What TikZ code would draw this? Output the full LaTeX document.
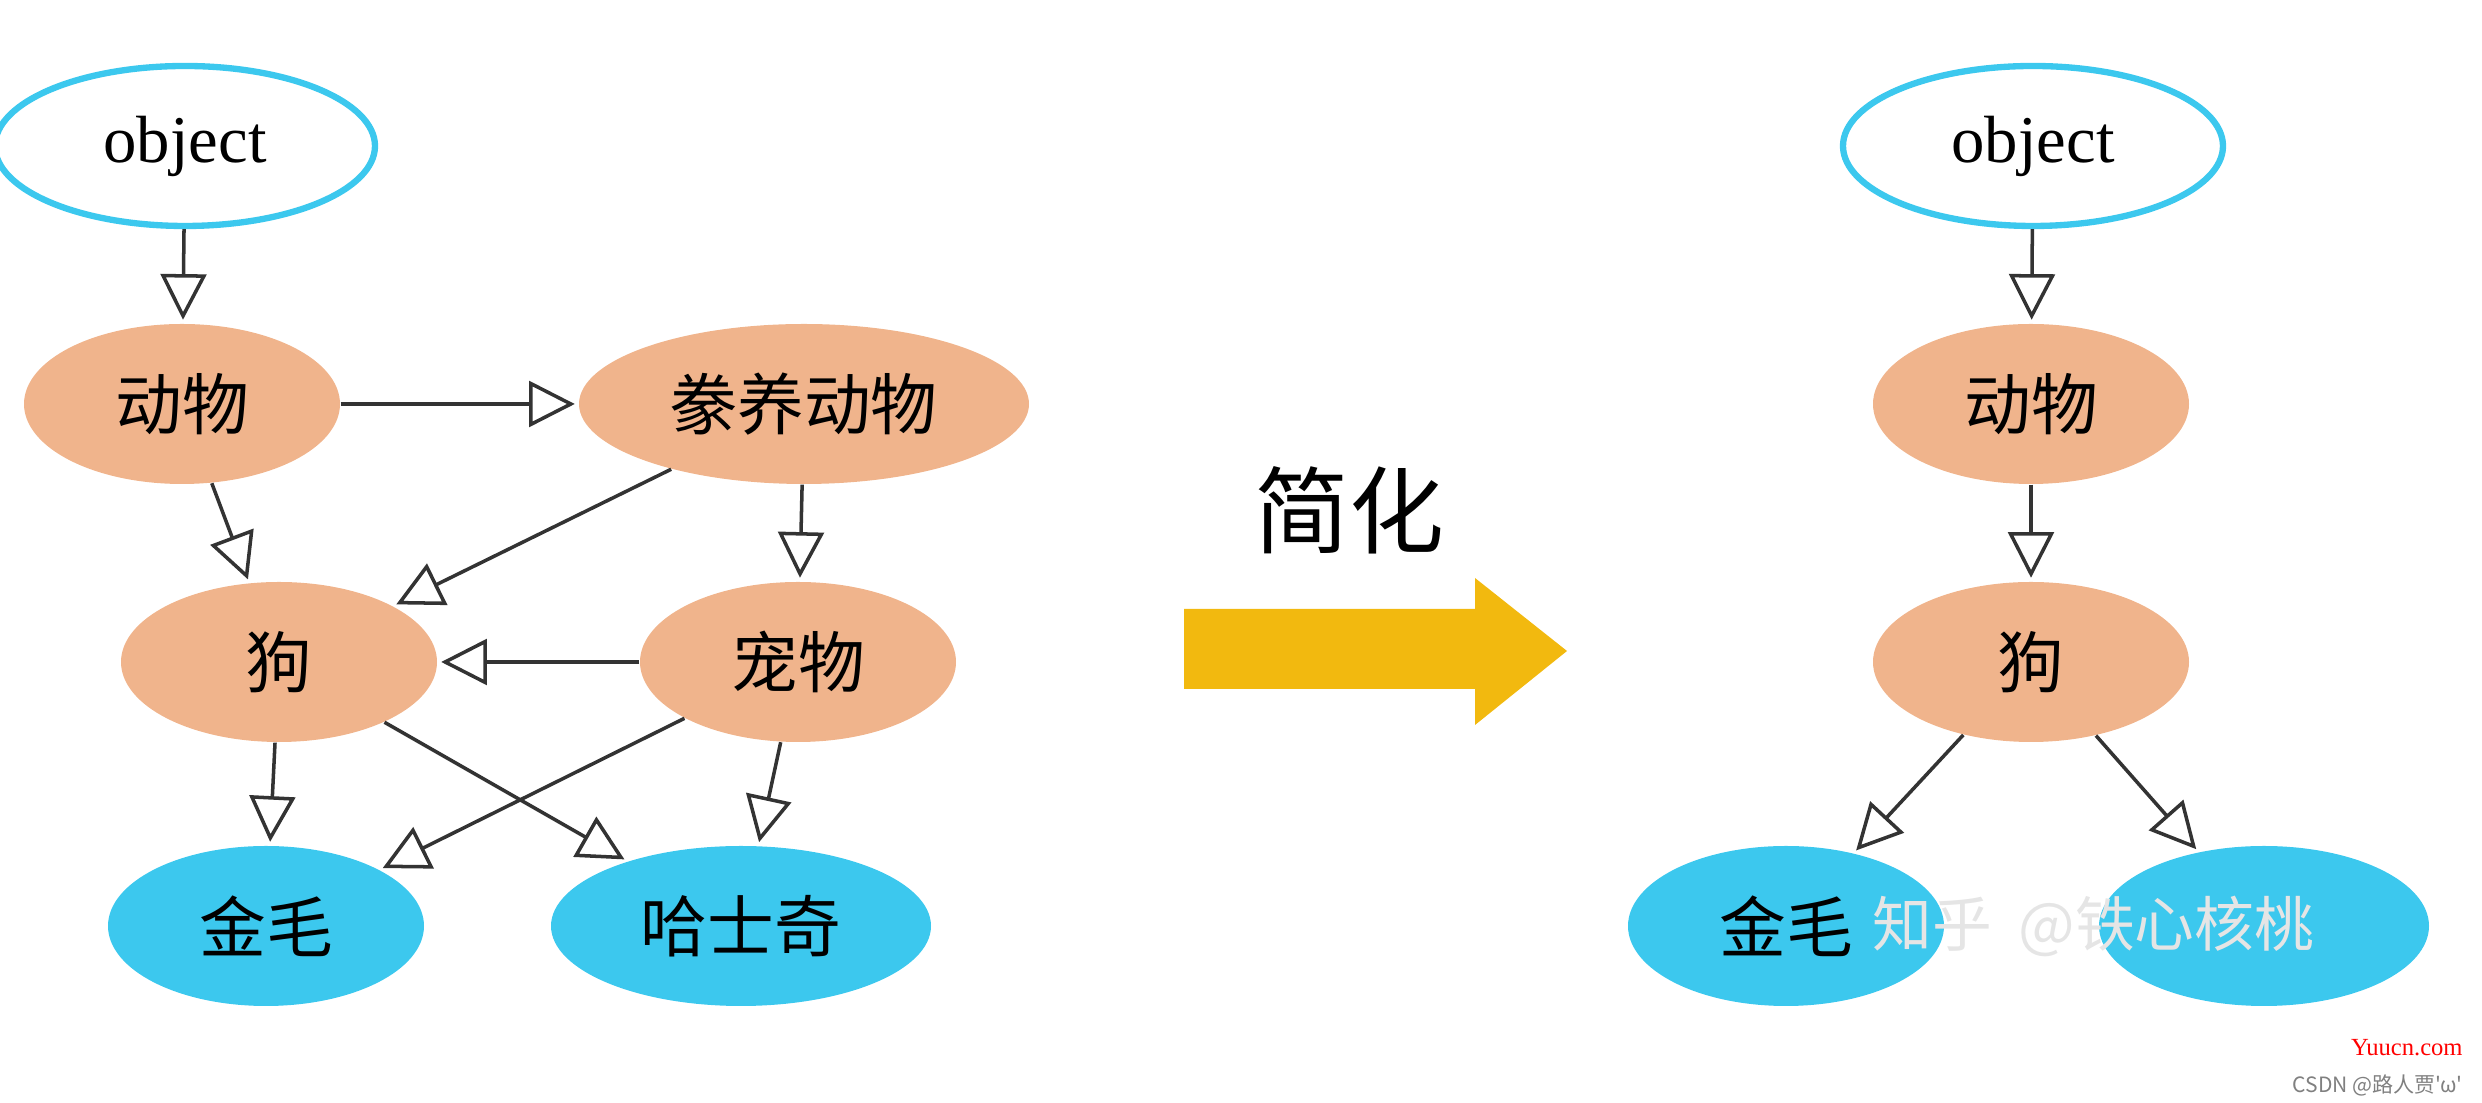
\documentclass[tikz,border=0pt]{standalone}
\usepackage{fontspec}
\setmainfont{Liberation Serif}
\newfontfamily\cjk{Noto Sans CJK SC}
\usetikzlibrary{arrows.meta,shapes.geometric}
\definecolor{peach}{HTML}{F0B48C}
\definecolor{cyanb}{HTML}{3CC8EE}
\definecolor{yel}{HTML}{F2B90F}
\begin{document}
\begin{tikzpicture}[x=0.1mm,y=-0.1mm,
  obj/.style={ellipse,draw=cyanb,line width=1.8pt,fill=white,minimum width=38mm,minimum height=16mm,font=\fontsize{19}{22}\selectfont,inner sep=0},
  mid/.style={ellipse,fill=peach,minimum height=16mm,minimum width=31.6mm,font=\cjk\fontsize{19}{22}\selectfont,inner sep=0},
  leaf/.style={ellipse,fill=cyanb,minimum height=16mm,minimum width=31.6mm,font=\cjk\fontsize{19}{22}\selectfont,inner sep=0},
  ed/.style={draw=black!80,line width=1pt,-{Triangle[open,length=13pt,width=13pt]},shorten >=1pt}]
\useasboundingbox (0,0) rectangle (2482,1103);
\node[obj] (o1) at (185,146) {object};
\node[mid] (a1) at (182,404) {动物};
\node[mid,minimum width=45mm] (d1) at (804,404) {豢养动物};
\node[mid] (g1) at (279,662) {狗};
\node[mid] (p1) at (798,662) {宠物};
\node[leaf] (j1) at (266,926) {金毛};
\node[leaf,minimum width=38mm] (h1) at (741,926) {哈士奇};
\draw[ed] (o1) -- (a1);
\draw[ed] (a1) -- (d1);
\draw[ed] (a1) -- (g1);
\draw[ed] (d1) -- (g1);
\draw[ed] (d1) -- (p1);
\draw[ed] (p1) -- (g1);
\draw[ed] (g1) -- (j1);
\draw[ed] (g1) -- (h1);
\draw[ed] (p1) -- (j1);
\draw[ed] (p1) -- (h1);
\node[font=\cjk\fontsize{27}{30}\selectfont] (t) at (1349,510) {简化};
\fill[yel] (1184,609) -- (1475,609) -- (1475,578) -- (1567,651) -- (1475,725) -- (1475,689) -- (1184,689) -- cycle;
\node[obj] (o2) at (2033,146) {object};
\node[mid] (a2) at (2031,404) {动物};
\node[mid] (g2) at (2031,662) {狗};
\node[leaf] (j2) at (1786,926) {金毛};
\node[leaf,minimum width=33mm] (h2) at (2264,926) {};
\draw[ed] (o2) -- (a2);
\draw[ed] (a2) -- (g2);
\draw[ed] (g2) -- (j2);
\draw[ed] (g2) -- (h2);
\node[font=\cjk\fontsize{17}{20}\selectfont,text=black!10,anchor=west] (wm) at (1860,926) {知乎\ \ @铁心核桃};
\node[font=\fontsize{7}{8}\selectfont,text=red,anchor=east] (y) at (2475,1048) {Yuucn.com};
\node[font=\cjk\fontsize{6}{7}\selectfont,text=black!50,anchor=east] (c) at (2475,1085) {CSDN @路人贾'ω'};
\end{tikzpicture}
\end{document}
